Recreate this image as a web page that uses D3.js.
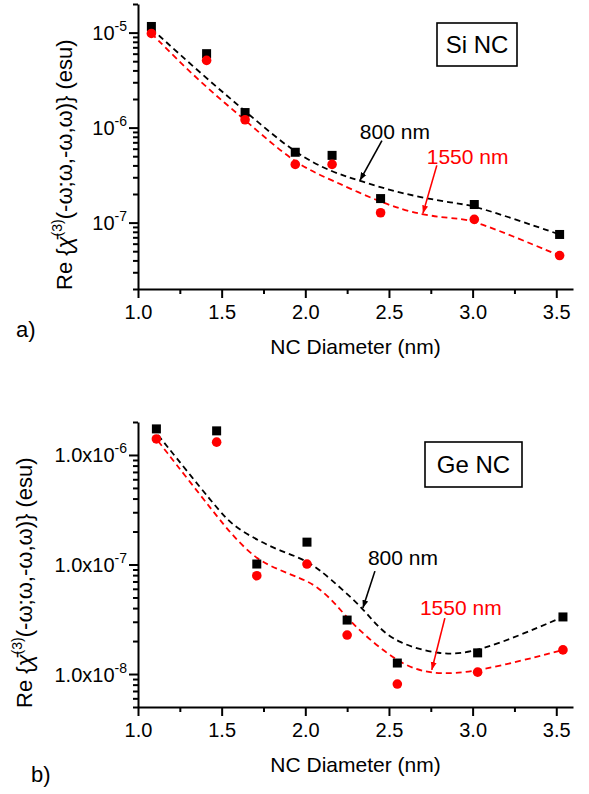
<!DOCTYPE html>
<html><head><meta charset="utf-8">
<script src="https://cdn.jsdelivr.net/npm/d3@7"></script>
<style>body{margin:0;background:#fff} svg text{font-family:Arial,"Liberation Sans",sans-serif}</style>
</head><body><svg id="c" width="589" height="794"></svg>
<script>
// ---------- data ----------
const xTicks = [1.0, 1.5, 2.0, 2.5, 3.0, 3.5];
const xMinorTicks = [1.25, 1.75, 2.25, 2.75, 3.25];

// Si NC (panel a)
const siDiameter = [1.08, 1.41, 1.64, 1.94, 2.16, 2.45, 3.01, 3.52];
const si800 = [1.16e-5, 6.0e-6, 1.44e-6, 5.5e-7, 5.1e-7, 1.79e-7, 1.55e-7, 7.5e-8];
const si1550 = [9.8e-6, 5.1e-6, 1.21e-6, 4.1e-7, 4.1e-7, 1.27e-7, 1.08e-7, 4.5e-8];
const siFitX800 = [1.08, 1.4, 1.65, 1.94, 2.165, 2.326, 2.565, 2.906, 3.01, 3.52];
const siFit800 = [1.1e-5, 3.4e-6, 1.44e-6, 5.3e-7, 3.36e-7, 2.77e-7, 2.02e-7, 1.58e-7, 1.52e-7, 7.5e-8];
const siFitX1550 = [1.08, 1.37, 1.64, 1.94, 2.165, 2.464, 2.703, 2.906, 3.01, 3.52];
const siFit1550 = [9.8e-6, 3.0e-6, 1.21e-6, 4.1e-7, 2.77e-7, 1.58e-7, 1.19e-7, 1.10e-7, 1.06e-7, 4.5e-8];
const siYTicks = [1e-5, 1e-6, 1e-7];
const siTickBase = ["10", "10", "10"];
const siTickExp = ["-5", "-6", "-7"];

// Ge NC (panel b)
const geDiameter = [1.11, 1.47, 1.71, 2.01, 2.25, 2.55, 3.03, 3.54];
const ge800 = [1.73e-6, 1.66e-6, 1.01e-7, 1.60e-7, 3.11e-8, 1.26e-8, 1.56e-8, 3.32e-8];
const ge1550 = [1.40e-6, 1.31e-6, 7.9e-8, 1.01e-7, 2.27e-8, 8.1e-9, 1.04e-8, 1.66e-8];
const geFitX800 = [1.12, 1.47, 1.568, 1.711, 1.848, 2.01, 2.147, 2.344, 2.428, 2.55, 2.8, 3.03, 3.54];
const geFit800 = [1.52e-6, 3.28e-7, 2.25e-7, 1.68e-7, 1.33e-7, 1.10e-7, 7.5e-8, 4.0e-8, 2.74e-8, 1.92e-8, 1.49e-8, 1.55e-8, 3.32e-8];
const geFitX1550 = [1.12, 1.47, 1.568, 1.711, 1.848, 1.968, 2.069, 2.189, 2.284, 2.55, 2.75, 3.03, 3.54];
const geFit1550 = [1.34e-6, 2.77e-7, 1.82e-7, 1.10e-7, 8.9e-8, 7.5e-8, 6.4e-8, 4.27e-8, 2.8e-8, 1.26e-8, 9.8e-9, 1.04e-8, 1.66e-8];
const geYTicks = [1e-6, 1e-7, 1e-8];
const geTickBase = ["1.0x10", "1.0x10", "1.0x10"];
const geTickExp = ["-6", "-7", "-8"];

// annotations (data coordinates)
const siLabel800 = {text: "800 nm", x: 2.326, y: 7.65e-7, from: [2.458, 7.3e-7], to: [2.326, 2.77e-7]};
const siLabel1550 = {text: "1550 nm", x: 2.726, y: 4.18e-7, from: [2.786, 4.0e-7], to: [2.703, 1.25e-7]};
const geLabel800 = {text: "800 nm", x: 2.374, y: 9.9e-8, from: [2.416, 8.7e-8], to: [2.344, 4.0e-8]};
const geLabel1550 = {text: "1550 nm", x: 2.685, y: 3.46e-8, from: [2.834, 3.24e-8], to: [2.756, 1.09e-8]};

// ---------- drawing ----------
const svg = d3.select("#c");
svg.append("rect").attr("width", 589).attr("height", 794).attr("fill", "#fff");
const RED = "#ff0000";
const defs = svg.append("defs");
[["ahBlack", "#000"], ["ahRed", RED]].forEach(([id, c]) => {
  defs.append("marker").attr("id", id).attr("markerUnits", "userSpaceOnUse")
    .attr("markerWidth", 9).attr("markerHeight", 8).attr("refX", 8).attr("refY", 4)
    .attr("orient", "auto")
    .append("path").attr("d", "M0,1 L8,4 L0,7 Z").attr("fill", c);
});

const LEFT = 138, RIGHT = 573;
const x = d3.scaleLinear().domain([1.0, 3.6]).range([LEFT, RIGHT]);

function minorLog(domain, majors) {
  const out = [];
  const lo = Math.floor(Math.log10(domain[0])), hi = Math.ceil(Math.log10(domain[1]));
  for (let e = lo; e <= hi; e++) for (let m = 1; m <= 9; m++) {
    const v = m * Math.pow(10, e);
    if (v >= domain[0] * 0.999 && v <= domain[1] * 1.001 && !majors.some(t => Math.abs(t - v) / v < 1e-6)) out.push(v);
  }
  return out;
}

function panel(cfg) {
  const y = d3.scaleLog().domain(cfg.yDomain).range([cfg.bottom, cfg.top]);
  const g = svg.append("g");

  // x axis
  const xa = g.append("g").attr("transform", `translate(0,${cfg.bottom})`)
    .call(d3.axisBottom(x).tickValues(xTicks).tickSize(9).tickSizeOuter(0).tickPadding(7).tickFormat(d3.format(".1f")));
  const xm = g.append("g").attr("transform", `translate(0,${cfg.bottom})`)
    .call(d3.axisBottom(x).tickValues(xMinorTicks).tickSize(5).tickSizeOuter(0).tickFormat(""));
  xm.select(".domain").remove();
  // y axis
  const ya = g.append("g").attr("transform", `translate(${LEFT},0)`)
    .call(d3.axisLeft(y).tickValues(cfg.yTicks).tickSize(9).tickSizeOuter(0).tickPadding(4).tickFormat(""));
  const ym = g.append("g").attr("transform", `translate(${LEFT},0)`)
    .call(d3.axisLeft(y).tickValues(minorLog(cfg.yDomain, cfg.yTicks)).tickSize(5).tickSizeOuter(0).tickFormat(""));
  ym.select(".domain").remove();
  [xa, xm, ya, ym].forEach(a => {
    a.selectAll("path,line").attr("stroke", "#000").attr("stroke-width", 2);
    a.selectAll("text").attr("font-size", 20).attr("fill", "#000").attr("font-family", "Arial, 'Liberation Sans', sans-serif");
  });
  ya.selectAll(".tick text").each(function (d, i) {
    const t = d3.select(this).attr("dy", "0.35em").attr("x", -11);
    t.append("tspan").text(cfg.tickBase[i]);
    t.append("tspan").attr("dy", -9).attr("font-size", 14).text(cfg.tickExp[i]);
  });

  // axis titles
  g.append("text").attr("x", (LEFT + RIGHT) / 2).attr("y", cfg.bottom + 65)
    .attr("text-anchor", "middle").attr("font-size", 21).text("NC Diameter (nm)");
  const yt = g.append("text").attr("transform", `translate(${cfg.titleX},${cfg.titleY}) rotate(-90)`)
    .attr("font-size", 22);
  yt.append("tspan").text("Re {");
  yt.append("tspan").attr("font-style", "italic").text("\u03C7\u0304");
  yt.append("tspan").attr("dy", -10).attr("font-size", 14).text("(3)");
  yt.append("tspan").attr("dy", 10).text("(-\u03C9;\u03C9,-\u03C9,\u03C9)} (esu)");

  // panel letter
  g.append("text").attr("x", cfg.letterX).attr("y", cfg.letterY).attr("font-size", 22).text(cfg.letter);

  // label box
  const bx = g.append("g");
  bx.append("rect").attr("x", cfg.box[0]).attr("y", cfg.box[1]).attr("width", cfg.box[2]).attr("height", cfg.box[3])
    .attr("fill", "#fff").attr("stroke", "#000").attr("stroke-width", 1.6);
  bx.append("text").attr("x", cfg.box[0] + cfg.box[2] / 2).attr("y", cfg.box[1] + cfg.box[3] / 2)
    .attr("dy", "0.36em").attr("text-anchor", "middle").attr("font-size", 24).text(cfg.name);

  // fit curves
  const line = d3.line().x(d => x(d[0])).y(d => y(d[1])).curve(d3.curveBasis);
  g.append("path").datum(d3.zip(cfg.fitX800, cfg.fit800)).attr("d", line)
    .attr("fill", "none").attr("stroke", "#000").attr("stroke-width", 1.8).attr("stroke-dasharray", "6,4");
  g.append("path").datum(d3.zip(cfg.fitX1550, cfg.fit1550)).attr("d", line)
    .attr("fill", "none").attr("stroke", RED).attr("stroke-width", 1.8).attr("stroke-dasharray", "6,4");

  // markers
  g.append("g").selectAll("rect").data(d3.zip(cfg.xs, cfg.v800)).join("rect")
    .attr("x", d => x(d[0]) - 4.5).attr("y", d => y(d[1]) - 4.5).attr("width", 9).attr("height", 9).attr("fill", "#000");
  g.append("g").selectAll("circle").data(d3.zip(cfg.xs, cfg.v1550)).join("circle")
    .attr("cx", d => x(d[0])).attr("cy", d => y(d[1])).attr("r", 4.8).attr("fill", RED);

  // annotations
  [[cfg.lab800, "#000", "ahBlack"], [cfg.lab1550, RED, "ahRed"]].forEach(([L, c, m]) => {
    g.append("text").attr("x", x(L.x)).attr("y", y(L.y)).attr("font-size", 21).attr("fill", c).text(L.text);
    g.append("line").attr("x1", x(L.from[0])).attr("y1", y(L.from[1])).attr("x2", x(L.to[0])).attr("y2", y(L.to[1]))
      .attr("stroke", c).attr("stroke-width", 1.6).attr("marker-end", `url(#${m})`);
  });
}

panel({
  top: 4, bottom: 289, yDomain: [2e-8, 2e-5], yTicks: siYTicks, tickBase: siTickBase, tickExp: siTickExp,
  xs: siDiameter, v800: si800, v1550: si1550,
  fitX800: siFitX800, fit800: siFit800, fitX1550: siFitX1550, fit1550: siFit1550,
  titleX: 72, titleY: 290, letter: "a)", letterX: 16, letterY: 337,
  box: [437, 23, 80, 43], name: "Si NC", lab800: siLabel800, lab1550: siLabel1550
});
panel({
  top: 422, bottom: 707, yDomain: [5e-9, 2e-6], yTicks: geYTicks, tickBase: geTickBase, tickExp: geTickExp,
  xs: geDiameter, v800: ge800, v1550: ge1550,
  fitX800: geFitX800, fit800: geFit800, fitX1550: geFitX1550, fit1550: geFit1550,
  titleX: 32, titleY: 708, letter: "b)", letterX: 31, letterY: 782,
  box: [425, 442, 97, 45], name: "Ge NC", lab800: geLabel800, lab1550: geLabel1550
});
</script></body></html>
